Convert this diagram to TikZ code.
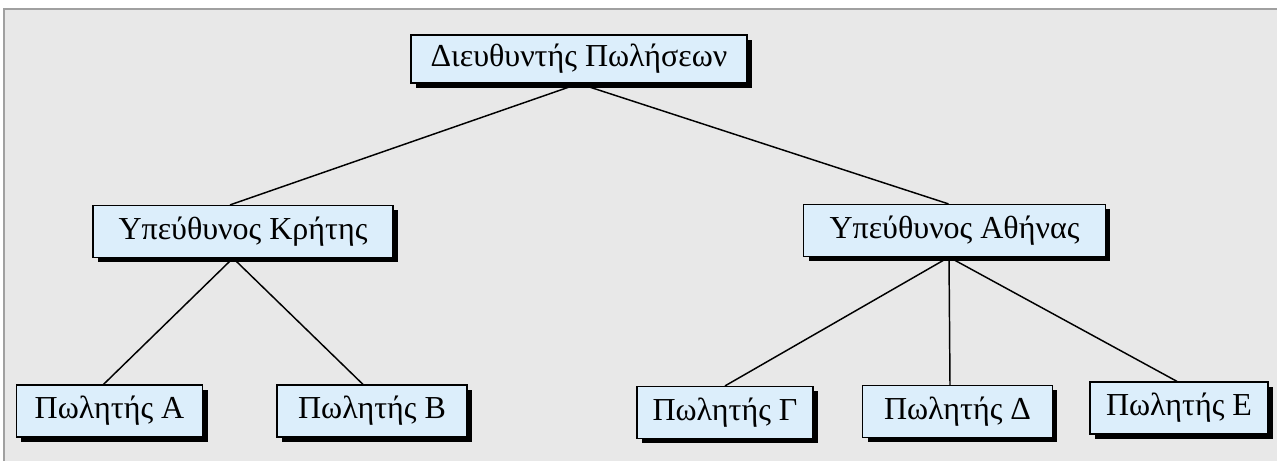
\documentclass[tikz,border=0pt]{standalone}
\usepackage{fontspec}
\setmainfont{Liberation Serif}
\usepackage{tikz}
\usetikzlibrary{calc,shadows}

\definecolor{paneBg}{HTML}{E8E8E8}
\definecolor{paneEdge}{HTML}{A0A0A0}
\definecolor{boxFill}{HTML}{DCEEFB}

\tikzset{
  rolebox/.style={draw=black, line width=0.9pt, fill=boxFill,
    inner xsep=4pt, minimum height=39pt, font=\fontsize{24}{28}\selectfont,
    drop shadow={shadow xshift=3.5pt, shadow yshift=-3.5pt, fill=black, opacity=1}},
  link/.style={line width=1.1pt}
}

\begin{document}
\begin{tikzpicture}[x=0.75pt,y=-0.75pt]
  %% page and grey pane
  \useasboundingbox (0,0) rectangle (1277,461);
  \fill[paneBg] (4,9) rectangle (1277,461);
  \draw[paneEdge, line width=1.6pt] (4,461) -- (4,9) -- (1277,9);

  %% the hierarchy
  \node[rolebox, minimum height=36pt, minimum width=252pt] (chief) at (579,59) {Διευθυντής Πωλήσεων};
  \node[rolebox, minimum width=225pt] (crete)  at (243,231.5) {Υπεύθυνος Κρήτης};
  \node[rolebox, minimum width=226pt] (athens) at (954.5,230.5) {Υπεύθυνος Αθήνας};

  \foreach \n/\x/\y/\w/\t in {sA/109.5/411/140/Α, sB/372/411/142.5/Β, sG/725/412.5/132/Γ,
                              sD/957.5/411.5/142/Δ, sE/1179/408/133.5/Ε}
  {
    \node[rolebox, minimum width=\w pt] (\n) at (\x,\y) {Πωλητής \t};
  }

  %% connectors
  \foreach \a/\da/\b/\db in {chief/0/crete/-13, chief/0/athens/-6,
                             crete/-10/sA/-6, crete/-10/sB/-9,
                             athens/-5.5/sG/0, athens/-5.5/sD/-7.5, athens/-5.5/sE/-2}
  {
    \draw[link] ($(\a.south)+(\da,0)$) -- ($(\b.north)+(\db,0)$);
  }
\end{tikzpicture}
\end{document}
